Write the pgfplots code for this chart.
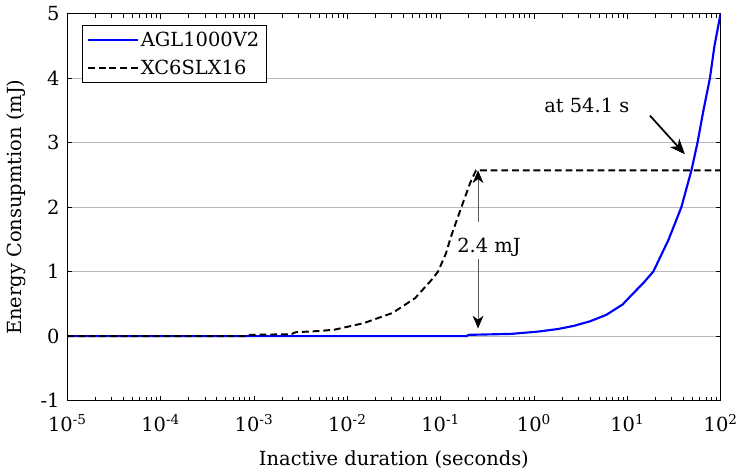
\documentclass[border=0pt]{standalone}
\usepackage{fontspec}
\setmainfont{DejaVu Serif}
\usepackage{pgfplots}
\pgfplotsset{compat=1.18}
\usetikzlibrary{arrows.meta}
\newcommand{\fs}{\fontsize{20}{24}\selectfont}
\begin{document}
\fs
\begin{tikzpicture}
\begin{axis}[
  scale only axis, width=672pt, height=398pt,
  xmode=log, xmin=1e-5, xmax=1e2, ymin=-1, ymax=5,
  ytick={-1,0,1,2,3,4,5},
  yticklabels={-1,0,1,2,3,4,5},
  xtick={1e-5,1e-4,1e-3,1e-2,1e-1,1,1e1,1e2},
  xticklabels={10\textsuperscript{-5},10\textsuperscript{-4},10\textsuperscript{-3},10\textsuperscript{-2},10\textsuperscript{-1},10\textsuperscript{0},10\textsuperscript{1},10\textsuperscript{2}},
  ymajorgrids, grid style={gray!55, line width=0.6pt},
  tick align=inside, major tick length=5pt, minor tick length=4pt,
  tick style={black, line width=0.8pt},
  axis line style={line width=1.1pt},
  xlabel={Inactive duration (seconds)},
  ylabel={Energy Consupmtion (mJ)},
  ticklabel style={font=\fs},
  label style={font=\fs},
  xticklabel style={yshift=-7pt},
  xlabel style={yshift=-6pt},
  ylabel style={yshift=2pt},
  yticklabel style={xshift=-1pt},
  legend style={at={(axis description cs:0.022,0.97)}, anchor=north west,
    draw=black, line width=1pt, font=\fs,
    inner xsep=5pt, inner ysep=4pt, row sep=7pt},
  legend cell align=left,
  legend image code/.code={\draw[#1] (0cm,0cm) -- (1.8cm,0cm);},
]
\addplot[blue, line width=2.2pt] coordinates {
  (1e-5,0) (0.19,0.0) (0.2,0.02) (0.57,0.035) (1.1,0.07) (1.8,0.11)
  (2.69,0.16) (3.99,0.23) (5.96,0.33) (8.9,0.49) (11.7,0.67) (14.8,0.82)
  (19.0,1.0) (27.6,1.49) (38.0,2.0) (48.7,2.57) (56.6,3.0)
  (65.5,3.5) (76.9,4.0) (86,4.5) (100,5.0)
};
\addlegendentry{AGL1000V2}
\addplot[black, line width=2pt, dash pattern=on 7pt off 4pt] coordinates {
  (1e-5,0) (8e-4,0) (9e-4,0.02) (2.5e-3,0.03) (2.8e-3,0.06) (0.005,0.08)
  (0.00728,0.10) (0.0149,0.2) (0.0306,0.36) (0.0534,0.59) (0.0798,0.87)
  (0.0938,1.0) (0.114,1.28) (0.129,1.54) (0.151,1.82) (0.177,2.10)
  (0.208,2.38) (0.234,2.54) (0.24,2.57) (100,2.57)
};
\addlegendentry{XC6SLX16}
\node[font=\fs] at (axis cs:3.69,3.58) {at 54.1 s};
\draw[black, line width=1.8pt, -{Stealth[length=16pt, width=13pt, inset=5pt]}]
  (axis cs:17.5,3.42) -- (axis cs:41.5,2.82);
\node[font=\fs, fill=white, inner sep=1pt] at (axis cs:0.33,1.385) {2.4 mJ};
\draw[gray!70!black, line width=0.7pt, -{Stealth[length=13pt, width=11pt, inset=4pt, black]}]
  (axis cs:0.252,1.77) -- (axis cs:0.252,2.57);
\draw[gray!70!black, line width=0.7pt, -{Stealth[length=13pt, width=11pt, inset=4pt, black]}]
  (axis cs:0.252,1.2) -- (axis cs:0.252,0.12);
\end{axis}
\end{tikzpicture}
\end{document}
